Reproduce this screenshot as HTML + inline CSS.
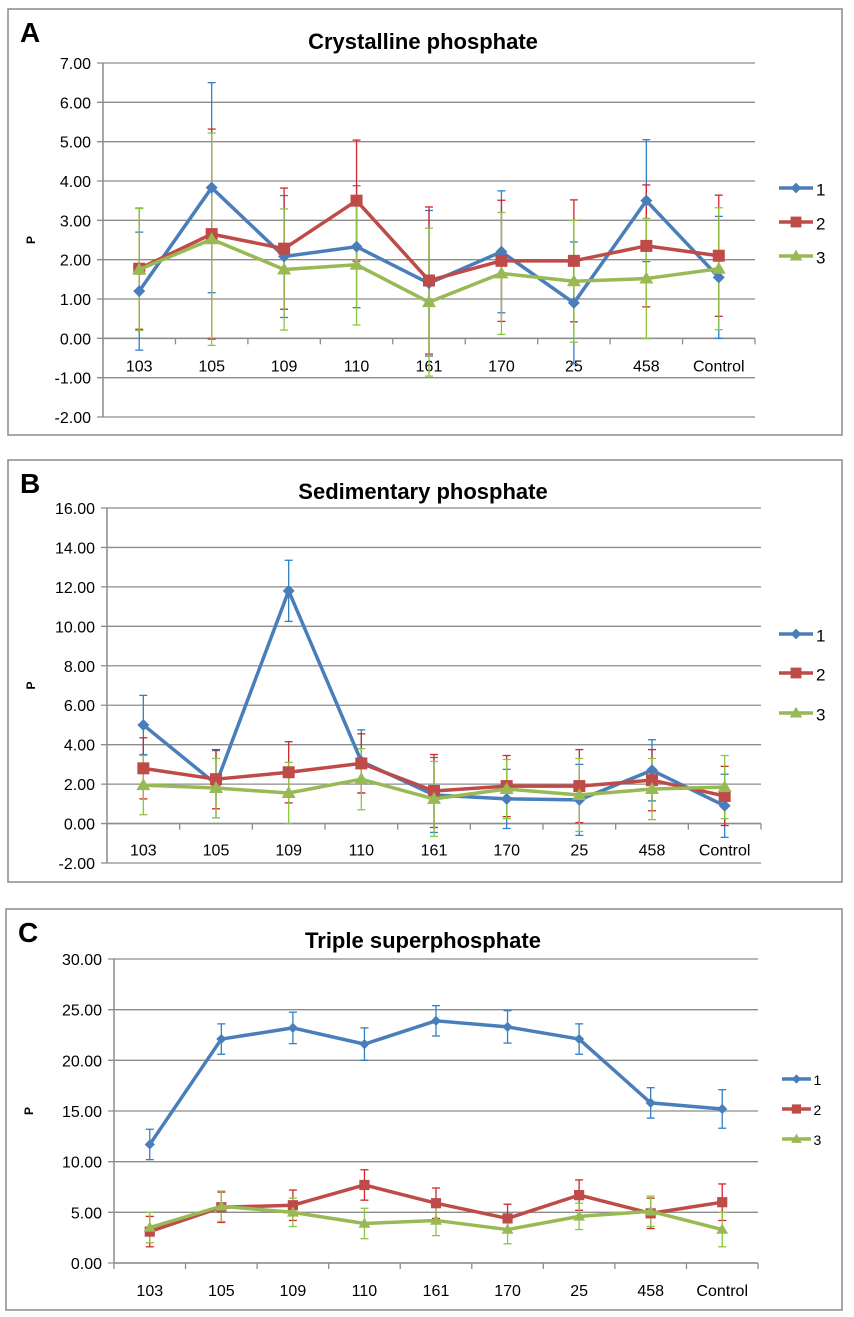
<!DOCTYPE html>
<html><head><meta charset="utf-8">
<style>
body{margin:0;background:#fff;}
svg{display:block;font-family:"Liberation Sans",sans-serif;}
</style></head>
<body>
<svg id="chart" width="854" height="1317" viewBox="0 0 854 1317" xmlns="http://www.w3.org/2000/svg"></svg>
<script>
const categories=["103","105","109","110","161","170","25","458","Control"];
const seriesNames=["1","2","3"];
// Panel A
const aS1=[1.2,3.83,2.08,2.33,1.4,2.2,0.9,3.5,1.55];
const aS2=[1.77,2.65,2.28,3.5,1.47,1.97,1.97,2.35,2.1];
const aS3=[1.75,2.52,1.75,1.87,0.92,1.65,1.45,1.52,1.77];
const aE1=[1.5,2.67,1.55,1.55,1.85,1.55,1.55,1.55,1.55];
const aE2=[1.54,2.67,1.54,1.54,1.87,1.54,1.55,1.55,1.54];
const aE3=[1.55,2.7,1.54,1.53,1.88,1.55,1.55,1.53,1.55];
const aTicks=[7,6,5,4,3,2,1,0,-1,-2];
// Panel B
const bS1=[5.0,2.0,11.8,3.15,1.45,1.25,1.2,2.7,0.9];
const bS2=[2.8,2.25,2.6,3.05,1.65,1.9,1.9,2.2,1.4];
const bS3=[1.95,1.8,1.55,2.25,1.25,1.75,1.45,1.75,1.85];
const bE1=[1.5,1.7,1.55,1.6,1.9,1.5,1.8,1.55,1.6];
const bE2=[1.55,1.5,1.55,1.5,1.85,1.55,1.85,1.55,1.5];
const bE3=[1.5,1.5,1.55,1.55,1.9,1.5,1.85,1.55,1.6];
const bTicks=[16,14,12,10,8,6,4,2,0,-2];
// Panel C
const cS1=[11.7,22.1,23.2,21.6,23.9,23.3,22.1,15.8,15.2];
const cS2=[3.1,5.5,5.7,7.7,5.9,4.4,6.7,4.9,6.0];
const cS3=[3.5,5.6,5.0,3.9,4.2,3.3,4.6,5.1,3.3];
const cE1=[1.5,1.5,1.55,1.6,1.5,1.6,1.5,1.5,1.9];
const cE2=[1.5,1.5,1.5,1.5,1.5,1.4,1.5,1.5,1.8];
const cE3=[1.5,1.5,1.4,1.5,1.5,1.4,1.3,1.5,1.7];
const cTicks=[30,25,20,15,10,5,0];

const svg=document.getElementById('chart');
const NS="http://www.w3.org/2000/svg";
const lineCol=["#4a7ebb","#be4b48","#98b954"];
const errCol=["#2f80c8","#d0262d","#8cc63f"];
function mk(tag,attrs,parent){const e=document.createElementNS(NS,tag);for(const k in attrs)e.setAttribute(k,attrs[k]);(parent||svg).appendChild(e);return e;}
function marker(g,i,x,y,s){
  let m;
  if(i===0){m=mk('polygon',{points:`${x},${y-6*s} ${x+6*s},${y} ${x},${y+6*s} ${x-6*s},${y}`,fill:lineCol[0]},g);}
  else if(i===1){m=mk('rect',{x:x-6*s,y:y-6*s,width:12*s,height:12*s,fill:lineCol[1]},g);}
  else{m=mk('polygon',{points:`${x},${y-7*s} ${x+7*s},${y+5*s} ${x-7*s},${y+5*s}`,fill:lineCol[2]},g);}
  return m;
}
function panel(p){
  const g=mk('g',{});
  
  
  const box=mk('rect',{x:p.box[0],y:p.box[1],width:p.box[2]-p.box[0],height:p.box[3]-p.box[1],fill:'#fff',stroke:'#8a8a8a','stroke-width':1.5},g);
  
  const lt=mk('text',{x:p.box[0]+12,y:p.box[1]+33,'font-size':28,'font-weight':'bold',fill:'#000'},g);lt.textContent=p.letter;
  
  const tt=mk('text',{x:p.titleX,y:p.titleY,'font-size':22,'font-weight':'bold','text-anchor':'middle',fill:'#000'},g);tt.textContent=p.title;
  
  const ymax=p.ticks[0],ymin=p.ticks[p.ticks.length-1];
  const Y=v=>p.top+(ymax-v)/(ymax-ymin)*(p.bottom-p.top);
  const step=(p.right-p.left)/categories.length;
  const X=i=>p.left+step*(i+0.5);
  p.ticks.forEach(t=>{
    const gl=mk('line',{x1:p.left-6,x2:p.right,y1:Y(t),y2:Y(t),stroke:'#8c8c8c','stroke-width':1.3},g);
    
    const tl=mk('text',{x:p.left-12,y:Y(t)+6,'font-size':16,'text-anchor':'end',fill:'#000'},g);tl.textContent=t.toFixed(2);
    
  });
  const ya=mk('line',{x1:p.left,x2:p.left,y1:p.top,y2:p.bottom,stroke:'#8c8c8c','stroke-width':1.5},g);
  
  const y0=Y(Math.max(0,ymin));
  const xa=mk('line',{x1:p.left,x2:p.right,y1:y0,y2:y0,stroke:'#8c8c8c','stroke-width':1.5},g);
  
  for(let i=0;i<=categories.length;i++){
    const tk=mk('line',{x1:p.left+step*i,x2:p.left+step*i,y1:y0,y2:y0+6,stroke:'#8c8c8c','stroke-width':1.3},g);
    
  }
  categories.forEach((c,i)=>{
    const cl=mk('text',{x:X(i),y:y0+p.labelOff,'font-size':16,'text-anchor':'middle',fill:'#000'},g);cl.textContent=c;
    
  });
  const ax=mk('text',{x:0,y:0,'font-size':12,'font-weight':'bold','text-anchor':'middle',fill:'#000',transform:`translate(${p.box[0]+27},${(p.top+p.bottom)/2}) rotate(-90)`},g);ax.textContent='P';
  
  p.series.forEach((s,si)=>{
    s.forEach((v,i)=>{
      const e=p.errs[si][i],x=X(i);
      const eb=mk('g',{stroke:errCol[si],'stroke-width':1.3},g);
      
      mk('line',{x1:x,x2:x,y1:Y(v+e),y2:Y(v-e)},eb);
      mk('line',{x1:x-4,x2:x+4,y1:Y(v+e),y2:Y(v+e)},eb);
      mk('line',{x1:x-4,x2:x+4,y1:Y(v-e),y2:Y(v-e)},eb);
    });
  });
  p.series.forEach((s,si)=>{
    const ln=mk('polyline',{points:s.map((v,i)=>X(i)+','+Y(v)).join(' '),fill:'none',stroke:lineCol[si],'stroke-width':3.5,'stroke-linejoin':'round'},g);
    
    s.forEach((v,i)=>{
      const m=marker(g,si,X(i),Y(v),p.ms);
      
      
    });
  });
  seriesNames.forEach((n,si)=>{
    const ly=p.legY[si];
    const lg=mk('g',{},g);
    
    mk('line',{x1:p.legX,x2:p.legX+34*p.ms,y1:ly,y2:ly,stroke:lineCol[si],'stroke-width':3.5},lg);
    marker(lg,si,p.legX+17*p.ms,ly,p.ms*0.9);
    const lt2=mk('text',{x:p.legX+37*p.ms,y:ly+p.legFont/2-1,'font-size':p.legFont,fill:'#000'},lg);lt2.textContent=n;
  });
}
panel({letter:'A',title:'Crystalline phosphate',box:[8,9,842,435],titleX:423,titleY:49,left:103,right:755,top:63,bottom:417,ticks:aTicks,series:[aS1,aS2,aS3],errs:[aE1,aE2,aE3],labelOff:33,legX:779,legY:[188,222,256],legFont:17,ms:1});
panel({letter:'B',title:'Sedimentary phosphate',box:[8,460,842,882],titleX:423,titleY:499,left:107,right:761,top:508,bottom:863,ticks:bTicks,series:[bS1,bS2,bS3],errs:[bE1,bE2,bE3],labelOff:32,legX:779,legY:[634,673,713],legFont:17,ms:1});
panel({letter:'C',title:'Triple superphosphate',box:[6,909,842,1310],titleX:423,titleY:948,left:114,right:758,top:959,bottom:1263,ticks:cTicks,series:[cS1,cS2,cS3],errs:[cE1,cE2,cE3],labelOff:33,legX:782,legY:[1079,1109,1139],legFont:14,ms:0.85});
</script>
</body></html>
